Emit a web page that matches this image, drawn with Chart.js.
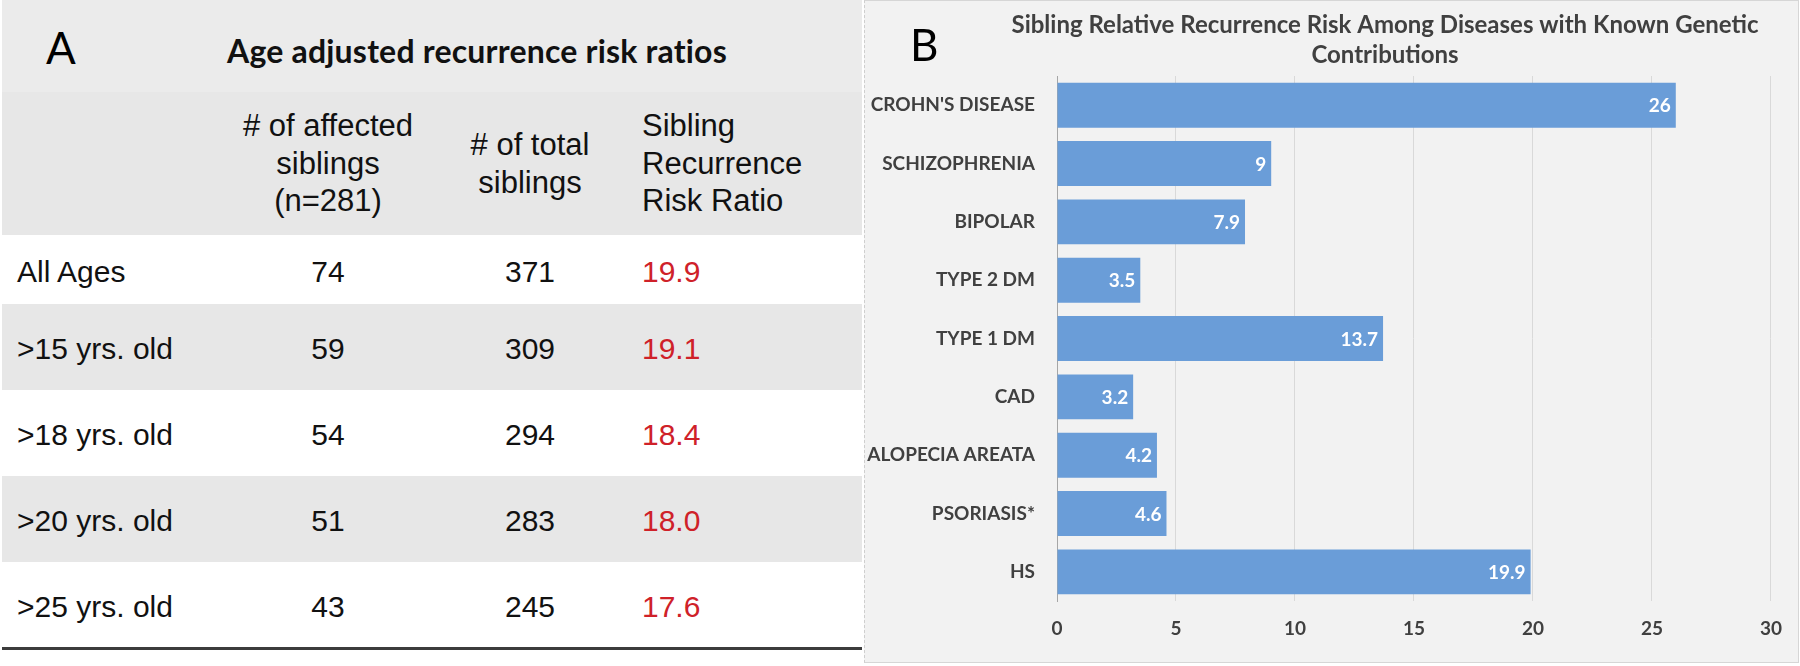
<!DOCTYPE html>
<html>
<head>
<meta charset="utf-8">
<script src="https://cdn.jsdelivr.net/npm/chart.js@4.4.0/dist/chart.umd.min.js"></script>
<style>
  html, body { margin: 0; padding: 0; background: #fff; width: 1800px; height: 666px; overflow: hidden; }
  .abs { position: absolute; }
  #panelA { left: 2px; top: 0; width: 860px; height: 650px; }
  #bandA { left: 0; top: 0; width: 860px; height: 92px; background: #ebebeb; }
  #headA { left: 0; top: 92px; width: 860px; height: 143px; background: #e7e7e7; }
  .letter { font-family: Lato, sans-serif; color: #000; white-space: nowrap; }
  #titleA { left: 227px; top: 35px; font: bold 32px/32px Lato, sans-serif; color: #111; white-space: nowrap; letter-spacing: 0.2px; }
  .hcell { font: 31px/37.5px "Liberation Sans", Arial, sans-serif; color: #111; top: 0; height: 143px;
           display: flex; flex-direction: column; justify-content: center; }
  .row { left: 0; width: 860px; height: 86px; font: 30px "Liberation Sans", Arial, sans-serif; color: #111; }
  .row div { position: absolute; top: 0; height: 100%; display: flex; align-items: center; padding-top: 4px; box-sizing: border-box; }
  .grey { background: #e7e7e7; }
  #rule { left: 2px; top: 647px; width: 860px; height: 3px; background: #3c3c3c; }
  #panelB { left: 864px; top: 0; width: 933px; height: 661px; background: #f2f2f2;
            border: 1px solid #d6d6d6; border-left: 1px dashed #cfcfcf; }
  #letterB { left: 910px; top: 22px; font-size: 44px; line-height: 44px; }
</style>
</head>
<body>
<div id="panelA" class="abs">
  <div id="bandA" class="abs"></div>
  <div id="headA" class="abs"></div>
</div>
<div id="letterA" class="abs letter" style="left:46px;top:25px;font-size:44px;line-height:44px;">A</div>
<div id="titleA" class="abs">Age adjusted recurrence risk ratios</div>
<div id="rule" class="abs"></div>

<div id="panelB" class="abs"><canvas id="chartB" width="933" height="661"></canvas></div>
<div id="letterB" class="abs letter">B</div>

<script>
// panel A table
const columnHeads = [
  ["# of affected", "siblings", "(n=281)"],
  ["# of total", "siblings"],
  ["Sibling", "Recurrence", "Risk Ratio"]
];
const ageGroups = ["All Ages", ">15 yrs. old", ">18 yrs. old", ">20 yrs. old", ">25 yrs. old"];
const affectedSiblings = [74, 59, 54, 51, 43];
const totalSiblings = [371, 309, 294, 283, 245];
const riskRatios = [19.9, 19.1, 18.4, 18.0, 17.6];

// panel B chart
const chartTitle = ["Sibling Relative Recurrence Risk Among Diseases with Known Genetic", "Contributions"];
const diseases = ["CROHN'S DISEASE", "SCHIZOPHRENIA", "BIPOLAR", "TYPE 2 DM", "TYPE 1 DM", "CAD", "ALOPECIA AREATA", "PSORIASIS*", "HS"];
const riskValues = [26, 9, 7.9, 3.5, 13.7, 3.2, 4.2, 4.6, 19.9];

// build the table
const panelA = document.getElementById("panelA");
const head = document.getElementById("headA");
const colBoxes = [
  { left: 226, width: 200, align: "center" },
  { left: 428, width: 200, align: "center" },
  { left: 640, width: 220, align: "left" }
];
columnHeads.forEach((lines, i) => {
  const c = document.createElement("div");
  c.className = "abs hcell";
  c.style.left = colBoxes[i].left + "px";
  c.style.width = colBoxes[i].width + "px";
  c.style.textAlign = colBoxes[i].align;
  c.innerHTML = lines.map(l => "<span>" + l + "</span>").join("");
  head.appendChild(c);
});

let rowTop = 235;
ageGroups.forEach((g, i) => {
  const h = i === 0 ? 69 : 86;
  const r = document.createElement("div");
  r.className = "abs row" + (i % 2 ? " grey" : "");
  r.style.top = rowTop + "px";
  r.style.height = h + "px";
  const cells = [
    { text: g, left: 15, width: 200, justify: "flex-start" },
    { text: affectedSiblings[i], left: 226, width: 200, justify: "center" },
    { text: totalSiblings[i], left: 428, width: 200, justify: "center" },
    { text: riskRatios[i].toFixed(1), left: 640, width: 200, justify: "flex-start", color: "#cf2129" }
  ];
  cells.forEach(c => {
    const d = document.createElement("div");
    d.textContent = c.text;
    d.style.left = c.left + "px";
    d.style.width = c.width + "px";
    d.style.justifyContent = c.justify;
    if (c.color) d.style.color = c.color;
    r.appendChild(d);
  });
  panelA.appendChild(r);
  rowTop += h;
});

// title drawn over the chart area (Excel centres it a bit right of the canvas middle)
const panelTitle = {
  id: "panelTitle",
  afterDraw(chart) {
    const ctx = chart.ctx;
    ctx.save();
    ctx.font = "bold 24px Lato, sans-serif";
    ctx.fillStyle = "#404040";
    ctx.textAlign = "center";
    ctx.textBaseline = "middle";
    chartTitle.forEach((t, i) => ctx.fillText(t, 520, 24 + i * 30));
    ctx.restore();
  }
};

// value labels inside bar ends
const barValues = {
  id: "barValues",
  afterDatasetsDraw(chart) {
    const ctx = chart.ctx;
    const meta = chart.getDatasetMeta(0);
    ctx.save();
    ctx.font = "bold 19px Lato, sans-serif";
    ctx.fillStyle = "#ffffff";
    ctx.textAlign = "right";
    ctx.textBaseline = "middle";
    meta.data.forEach((bar, i) => {
      ctx.fillText(String(riskValues[i]), bar.x - 5, bar.y + 1);
    });
    ctx.restore();
  }
};

new Chart(document.getElementById("chartB"), {
  type: "bar",
  data: {
    labels: diseases,
    datasets: [{
      data: riskValues,
      backgroundColor: "#6a9dd8",
      borderWidth: 0,
      barPercentage: 0.77,
      categoryPercentage: 1
    }]
  },
  options: {
    indexAxis: "y",
    responsive: false,
    animation: false,
    layout: { padding: { top: 75, right: 15, left: 0, bottom: 0 } },
    plugins: {
      legend: { display: false },
      tooltip: { enabled: false }
    },
    scales: {
      x: {
        min: 0,
        max: 30,
        ticks: {
          stepSize: 5,
          padding: 16,
          color: "#404040",
          font: { family: "Lato", size: 19, weight: "bold" }
        },
        grid: { color: "#d9d9d9", drawTicks: false },
        border: { display: false },
        afterFit(scale) { scale.height = 61; }
      },
      y: {
        ticks: {
          padding: 22,
          color: "#404040",
          font: { family: "Lato", size: 19, weight: "bold" }
        },
        grid: { display: false, drawTicks: false },
        border: { display: true, color: "#a6a6a6", width: 1 },
        afterFit(scale) { scale.width = 192; }
      }
    }
  },
  plugins: [panelTitle, barValues]
});
</script>
</body>
</html>
